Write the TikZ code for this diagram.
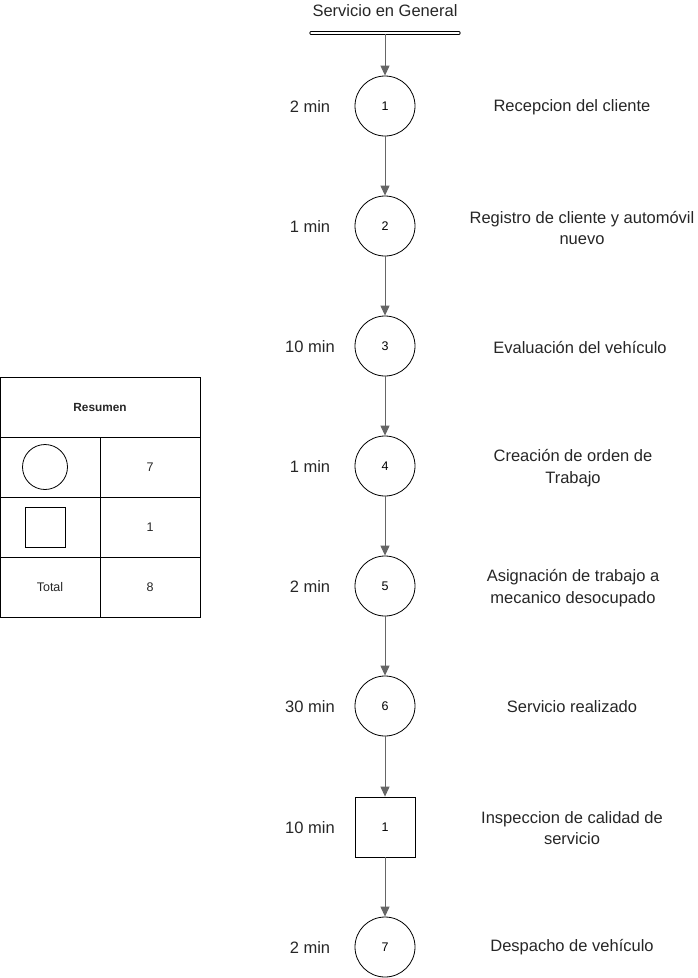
\documentclass[tikz,border=0pt]{standalone}
\usepackage{fontspec}
\setmainfont{Liberation Sans}
\usepackage{tikz}
\usetikzlibrary{arrows.meta,positioning}

\begin{document}
\begin{tikzpicture}[x=1pt,y=-1pt,
  step circle/.style={draw,circle,line width=0.8pt,minimum size=60pt,inner sep=0pt,font=\fontsize{12.5}{14}\selectfont},
  step square/.style={draw,rectangle,line width=0.8pt,minimum size=60pt,inner sep=0pt,font=\fontsize{12.5}{14}\selectfont},
  lbl/.style={font=\fontsize{16.5}{21.5}\selectfont,align=center,text=black!85,yshift=-1pt},
  small/.style={font=\fontsize{12.5}{14}\selectfont,text=black!85},
  flow/.style={draw=black!60,line width=1pt,-{Triangle[length=10pt,width=9pt]}}]
\useasboundingbox (0,0) rectangle (698,978);

% titulo y barra
\node[lbl] (title) at (385,10) {Servicio en General};
\draw[double,double distance=1.4pt,line width=0.9pt,line cap=round] (311,33) -- (459,33);
\coordinate (bar) at (385,34);

% operaciones
\node[step circle] (c1) at (385,106) {1};
\node[step circle] (c2) at (385,226) {2};
\node[step circle] (c3) at (385,346) {3};
\node[step circle] (c4) at (385,466) {4};
\node[step circle] (c5) at (385,586) {5};
\node[step circle] (c6) at (385,706) {6};
\node[step square] (s1) at (385,827) {1};
\node[step circle] (c7) at (385,947) {7};

\draw[flow] (bar) -- (c1);
\draw[flow] (c1) -- (c2);
\draw[flow] (c2) -- (c3);
\draw[flow] (c3) -- (c4);
\draw[flow] (c4) -- (c5);
\draw[flow] (c5) -- (c6);
\draw[flow] (c6) -- (s1);
\draw[flow] (s1) -- (c7);

% tiempos
\node[lbl] (t1) at (310,106) {2 min};
\node[lbl] (t2) at (310,226) {1 min};
\node[lbl] (t3) at (310,346) {10 min};
\node[lbl] (t4) at (310,466) {1 min};
\node[lbl] (t5) at (310,586) {2 min};
\node[lbl] (t6) at (310,706) {30 min};
\node[lbl] (t7) at (310,827) {10 min};
\node[lbl] (t8) at (310,947) {2 min};

% descripciones
\node[lbl] (d1) at (572,106) {Recepcion del cliente};
\node[lbl] (d2) at (582,227) {Registro de cliente y autom\'ovil\\nuevo};
\node[lbl] (d3) at (580,346) {Evaluaci\'on del veh\'iculo};
\node[lbl] (d4) at (573,467) {Creaci\'on de orden de\\Trabajo};
\node[lbl] (d5) at (573,587) {Asignaci\'on de trabajo a\\mecanico desocupado};
\node[lbl] (d6) at (572,706) {Servicio realizado};
\node[lbl] (d7) at (572,827) {Inspeccion de calidad de\\servicio};
\node[lbl] (d8) at (572,946) {Despacho de veh\'iculo};

% resumen
\draw[line width=0.8pt] (0.5,377) rectangle (200,617);
\draw[line width=0.8pt] (0.5,437) -- (200,437);
\draw[line width=0.8pt] (0.5,497) -- (200,497);
\draw[line width=0.8pt] (0.5,557) -- (200,557);
\draw[line width=0.8pt] (100,437) -- (100,617);
\node[small,font=\fontsize{11.8}{13}\selectfont\bfseries] (res) at (100,407) {Resumen};
\draw[line width=0.8pt] (45,467) circle (22.5);
\draw[line width=0.8pt] (25,507) rectangle (65,547);
\node[small] (n7) at (150,467) {7};
\node[small] (n1) at (150,527) {1};
\node[small] (tot) at (50,587) {Total};
\node[small] (n8) at (150,587) {8};
\end{tikzpicture}
\end{document}
